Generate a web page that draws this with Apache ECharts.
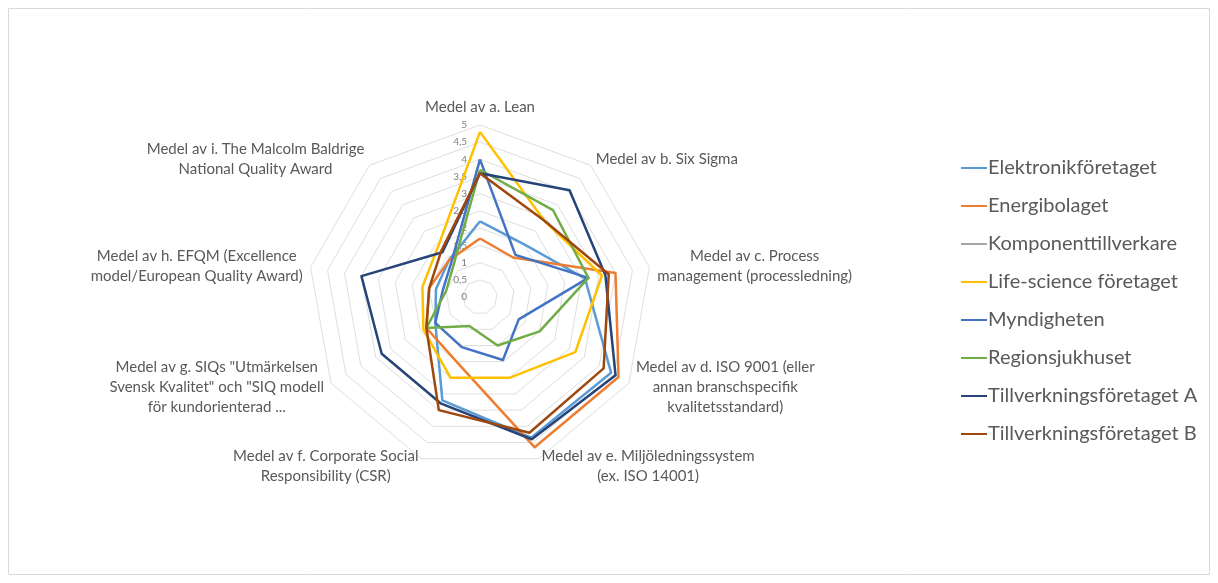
<!DOCTYPE html>
<html>
<head>
<meta charset="utf-8">
<script src="https://cdn.jsdelivr.net/npm/echarts@6/dist/echarts.min.js"></script>
<style>
  html, body { margin: 0; padding: 0; background: #ffffff; }
  #chart { width: 1218px; height: 583px; }
</style>
</head>
<body>
<div id="chart"></div>
<script>
// Axis categories (clockwise from the top)
const axisNames = [
  'Medel av a. Lean',
  'Medel av b. Six Sigma',
  'Medel av c. Process\nmanagement (processledning)',
  'Medel av d. ISO 9001 (eller\nannan branschspecifik\nkvalitetsstandard)',
  'Medel av e. Miljöledningssystem\n(ex. ISO 14001)',
  'Medel av f. Corporate Social\nResponsibility (CSR)',
  'Medel av g. SIQs "Utmärkelsen\nSvensk Kvalitet" och "SIQ modell\nför kundorienterad ...',
  'Medel av h. EFQM (Excellence\nmodel/European Quality Award)',
  'Medel av i. The Malcolm Baldrige\nNational Quality Award'
];

const seriesNames = [
  'Elektronikföretaget',
  'Energibolaget',
  'Komponenttillverkare',
  'Life-science företaget',
  'Myndigheten',
  'Regionsjukhuset',
  'Tillverkningsföretaget A',
  'Tillverkningsföretaget B'
];

const seriesColors = ['#5B9BD5', '#ED7D31', '#A5A5A5', '#FFC000', '#4472C4', '#70AD47', '#264478', '#9E480E'];

// Average scores per organisation, in axis order a..i
const elektronik   = [2.2, 2.0, 3.1, 4.4, 4.35, 3.2, 1.5, 1.3, 1.4];
const energi       = [1.7, 1.5, 4.0, 4.65, 4.65, 2.0, 1.8, 1.5, 1.4];
const komponent    = [0, 0, 0, 0, 0, 0, 0, 0, 0];
const lifeScience  = [4.8, 2.9, 3.6, 3.2, 2.5, 2.5, 1.9, 1.7, 1.9];
const myndigheten  = [4.0, 1.6, 3.2, 1.3, 1.95, 1.55, 1.5, 1.1, 1.3];
const regionsjukhus = [3.7, 3.3, 3.2, 2.0, 1.5, 0.9, 1.8, 1.0, 1.2];
const tillverkningA = [3.6, 4.05, 3.7, 4.55, 4.4, 3.3, 3.3, 3.5, 1.7];
const tillverkningB = [3.6, 2.9, 3.8, 4.15, 4.2, 3.5, 1.8, 1.5, 1.75];

const seriesValues = [elektronik, energi, komponent, lifeScience, myndigheten, regionsjukhus, tillverkningA, tillverkningB];

// Value-scale tick labels (0 to 5 in steps of 0.5)
const scaleTicks = ['0', '0,5', '1', '1,5', '2', '2,5', '3', '3,5', '4', '4,5', '5'];

// ECharts lays indicators out counter-clockwise; reorder so the axes run clockwise
const axisOrder = [0, 8, 7, 6, 5, 4, 3, 2, 1];

const CENTER = [480, 297];
const RADIUS = 172;
const FONT = 'Lato, "Open Sans", sans-serif';

const chart = echarts.init(document.getElementById('chart'), null, { renderer: 'canvas' });

chart.setOption({
  backgroundColor: '#ffffff',
  animation: false,
  graphic: [{
    type: 'rect',
    shape: { x: 8.5, y: 8.5, width: 1201, height: 566 },
    style: { fill: 'none', stroke: '#D9D9D9', lineWidth: 1 },
    silent: true
  }],
  legend: {
    orient: 'vertical',
    left: 956,
    top: 153,
    icon: 'rect',
    itemWidth: 26,
    itemHeight: 2,
    itemGap: 18,
    data: seriesNames,
    textStyle: { color: '#595959', fontFamily: FONT, fontSize: 20, lineHeight: 20, padding: [0, 0, 0, -4] }
  },
  radar: {
    center: CENTER,
    radius: RADIUS,
    startAngle: 90,
    shape: 'polygon',
    splitNumber: 10,
    nameGap: 8,
    indicator: axisOrder.map(i => ({ name: axisNames[i], min: 0, max: 5 })),
    axisName: {
      color: '#595959',
      fontFamily: FONT,
      fontSize: 15,
      formatter: name => name.split('\n').map(line => '{c|' + line + '}').join('\n'),
      rich: {
        c: { align: 'center', color: '#595959', fontFamily: FONT, fontSize: 15, lineHeight: 20 }
      }
    },
    splitLine: { lineStyle: { color: '#DEDEDE', width: 1 } },
    splitArea: { show: false },
    axisLine: { show: false },
    axisTick: { show: false },
    axisLabel: { show: false }
  },
  // A polar system sharing the radar's geometry carries the value-scale labels
  polar: { center: CENTER, radius: RADIUS },
  angleAxis: { startAngle: 90, show: false, min: 0, max: 360 },
  radiusAxis: {
    min: 0, max: 5, interval: 0.5,
    axisLine: { show: false },
    axisTick: { show: false },
    splitLine: { show: false },
    axisLabel: {
      color: '#7F7F7F',
      fontFamily: FONT,
      fontSize: 10,
      margin: 13,
      formatter: v => scaleTicks[Math.round(v * 2)]
    }
  },
  series: seriesNames.map((name, k) => ({
    type: 'radar',
    name: name,
    symbol: 'none',
    z: 2 + k,
    lineStyle: { color: seriesColors[k], width: 2.5 },
    itemStyle: { color: seriesColors[k] },
    data: [{ name: name, value: axisOrder.map(i => seriesValues[k][i]) }]
  }))
});
</script>
</body>
</html>
